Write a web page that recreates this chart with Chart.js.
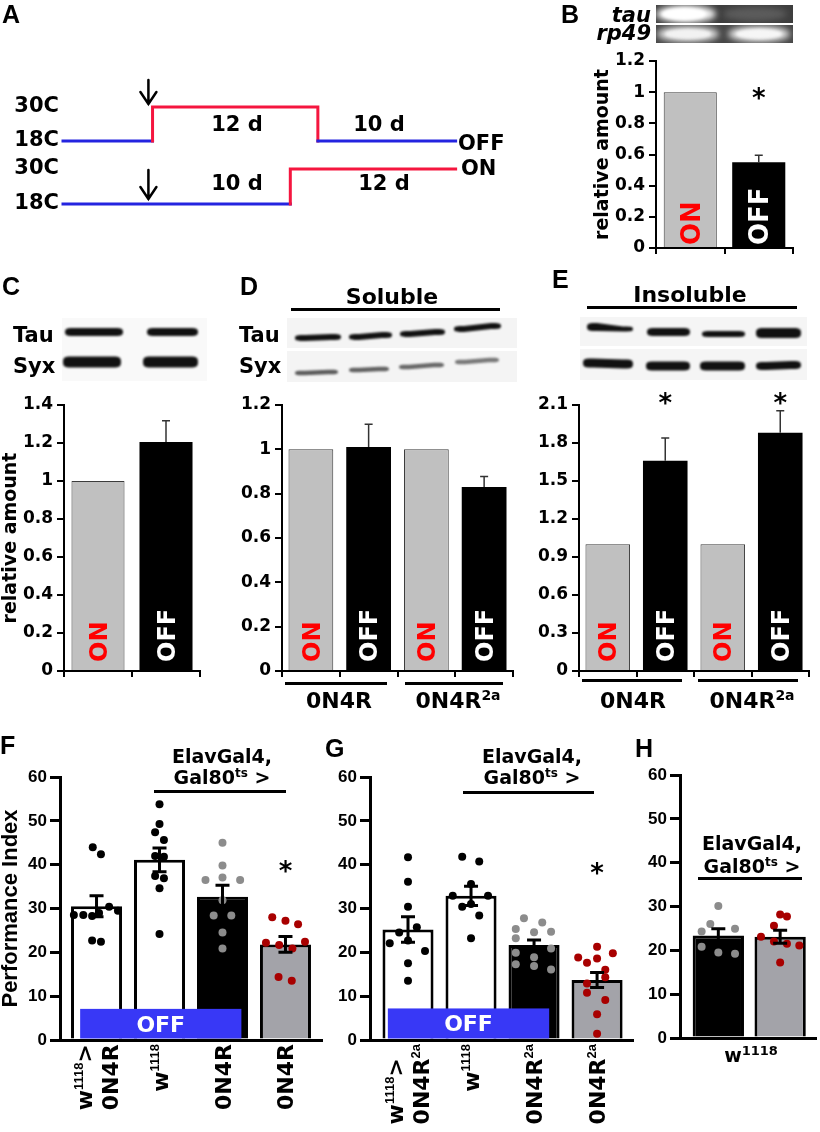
<!DOCTYPE html>
<html>
<head>
<meta charset="utf-8">
<title>Tau expression and learning</title>
<script src="https://cdn.jsdelivr.net/npm/chart.js@4.4.1/dist/chart.umd.min.js"></script>
<style>
  html, body { margin: 0; padding: 0; background: #fff; }
  #page { position: relative; width: 820px; height: 1132px; overflow: hidden; background: #fff; }
  #page canvas { position: absolute; }
  .t { position: absolute; white-space: nowrap; font-weight: bold; line-height: 1; color: #000;
       font-family: 'DejaVu Sans', Verdana, sans-serif; }
  .rule { position: absolute; background: #000; }
  .sup { position: relative; }
</style>
</head>
<body>
<div id="page"></div>
<script>
// ===================== DATA =====================
// Panel A: temperature-shift protocols (day relative to shift, temperature in C)
const offProtocolDays  = [-6.5, 0, 0, 12, 12, 22];
const offProtocolTemps = [18, 18, 30, 30, 18, 18];
const onProtocolDays   = [-6.5, 10, 10, 22];
const onProtocolTemps  = [18, 18, 30, 30];
const tempTickValues   = [18, 30];
const shiftArrowDay    = -0.3;

// Panel B: tau mRNA (RT-PCR)
const bCategories = ['ON', 'OFF'];
const bValues = [1, 0.55];
const bErrors = [0, 0.045];
const bSig    = ['', '*'];
const bTicks  = [0, 0.2, 0.4, 0.6, 0.8, 1, 1.2];

// Panel C: total Tau
const cCategories = ['ON', 'OFF'];
const cValues = [1, 1.205];
const cErrors = [0, 0.112];
const cTicks  = [0, 0.2, 0.4, 0.6, 0.8, 1, 1.2, 1.4];

// Panel D: soluble Tau
const dCategories = ['ON', 'OFF', 'ON', 'OFF'];
const dValues = [1, 1.01, 1, 0.83];
const dErrors = [0, 0.103, 0, 0.047];
const dTicks  = [0, 0.2, 0.4, 0.6, 0.8, 1, 1.2];
const dGroups = ['0N4R', '0N4R^{2a}'];

// Panel E: insoluble Tau
const eCategories = ['ON', 'OFF', 'ON', 'OFF'];
const eValues = [1, 1.66, 1, 1.88];
const eErrors = [0, 0.18, 0, 0.175];
const eSig    = ['', '*', '', '*'];
const eTicks  = [0, 0.3, 0.6, 0.9, 1.2, 1.5, 1.8, 2.1];
const eGroups = ['0N4R', '0N4R^{2a}'];

// Panels F-H: performance index
const piTicks = [0, 10, 20, 30, 40, 50, 60];

const fLabels = [['w^{1118}>', '0N4R'], ['w^{1118}'], ['0N4R'], ['0N4R']];
const fMeans  = [30.5, 41.1, 32.7, 21.8];
const fSem    = [2.4, 2.7, 2.6, 1.8];
const fSig    = ['', '', '', '*'];
// each dot: [horizontal jitter in category units, performance index]
const fDots0 = [[-0.36,28.5],[-0.21,28.5],[-0.07,28.3],[0.04,29.0],[0.2,30.4],[0.34,29.5],[-0.06,44.0],[0.07,42.4],[-0.07,22.7],[0.07,22.4]];
const fDots1 = [[0,53.8],[0,49.3],[-0.07,47.4],[0.07,45.6],[-0.07,42.0],[0.07,41.8],[-0.07,37.4],[0.07,36.9],[0,34.6],[0,24.2]];
const fDots2 = [[0,45.0],[0,39.8],[0,37.1],[-0.27,36.5],[0.28,36.5],[0,31.9],[-0.14,28.4],[0.14,28.4],[0,24.5],[0,20.9]];
const fDots3 = [[-0.21,28.0],[0,27.2],[0.2,26.4],[-0.31,22.2],[-0.1,21.7],[0.11,20.9],[0.31,22.4],[-0.11,14.4],[0.1,13.5]];

const gLabels = [['w^{1118}>', '0N4R^{2a}'], ['w^{1118}'], ['0N4R^{2a}'], ['0N4R^{2a}']];
const gMeans  = [25.2, 32.9, 21.7, 13.7];
const gSem    = [2.9, 2.2, 1.1, 1.7];
const gSig    = ['', '', '', '*'];
const gDots0 = [[0,41.7],[0,36.1],[0,30.4],[-0.14,24.5],[0.14,25.7],[-0.29,22.1],[0,22.7],[0.27,20.3],[0,17.5],[0,13.5]];
const gDots1 = [[-0.14,41.8],[0.13,40.7],[0,35.6],[-0.29,32.9],[0.27,32.9],[-0.14,30.4],[0,31.0],[0.13,28.4],[0,23.2]];
const gDots2 = [[-0.16,27.8],[0.13,26.8],[-0.29,25.3],[0,24.6],[0.27,24.7],[-0.29,23.2],[-0.29,19.9],[0,18.9],[0.27,20.9],[-0.29,17.3],[0,16.9],[0.27,16.1]];
const gDots3 = [[0,21.3],[-0.3,18.8],[0,18.6],[0.25,19.8],[-0.16,17.6],[0.13,16.0],[0.13,14.3],[-0.16,12.9],[-0.16,10.8],[0.13,9.1],[0,5.9],[0,1.4]];

const hGroupLabel = 'w^{1118}';
const hMeans = [23.4, 23.1];
const hSem   = [1.5, 1.5];
const hDots0 = [[0,30.1],[-0.13,26.0],[-0.27,24.3],[0.27,24.9],[-0.27,20.8],[0,19.5],[0.27,19.2]];
const hDots1 = [[0,28.2],[0.11,27.7],[-0.1,25.6],[-0.31,23.1],[0.31,21.1],[-0.1,22.0],[0.11,21.5],[0,17.2]];

// ===================== STYLE / HELPERS =====================
const FONT  = "'DejaVu Sans', Verdana, sans-serif";
const ARIAL = "'Liberation Sans', Arial, sans-serif";
const RED = '#f5163f', BLUE = '#2424e0';
const page = document.getElementById('page');
Chart.defaults.font.family = FONT;
Chart.defaults.color = '#000';

function mkCanvas(left, top, w, h) {
  const c = document.createElement('canvas');
  c.width = w; c.height = h;
  Object.assign(c.style, { left: left + 'px', top: top + 'px', width: w + 'px', height: h + 'px' });
  page.appendChild(c);
  return c;
}
function rich(s, supPx, raisePx) {
  return s.replace(/\^\{([^}]*)\}/g, (m, g) =>
    `<span class="sup" style="font-size:${supPx}px;top:-${raisePx}px">${g}</span>`);
}
function txt(html, x, y, o = {}) {
  const d = document.createElement('div');
  d.className = 't';
  d.innerHTML = html;
  d.style.fontSize = (o.size || 20) + 'px';
  if (o.family) d.style.fontFamily = o.family;
  if (o.italic) d.style.fontStyle = 'italic';
  if (o.color) d.style.color = o.color;
  if (o.lh) { d.style.lineHeight = o.lh + 'px'; d.style.textAlign = 'center'; }
  const a = o.align || 'center';
  const tx = a === 'center' ? '-50%' : a === 'right' ? '-100%' : '0';
  d.style.left = x + 'px'; d.style.top = y + 'px';
  d.style.transform = `translate(${tx}, -50%)`;
  page.appendChild(d);
  return d;
}
function rule(x0, x1, y, h = 3) {
  const d = document.createElement('div');
  d.className = 'rule';
  Object.assign(d.style, { left: x0 + 'px', top: (y - h / 2) + 'px', width: (x1 - x0) + 'px', height: h + 'px' });
  page.appendChild(d);
}
function parseRich(s) {
  const out = []; const re = /\^\{([^}]*)\}/g; let last = 0, m;
  while ((m = re.exec(s))) {
    if (m.index > last) out.push({ t: s.slice(last, m.index) });
    out.push({ t: m[1], sup: true }); last = re.lastIndex;
  }
  if (last < s.length) out.push({ t: s.slice(last) });
  return out;
}

// ---------- plugins ----------
function errorBarsPlugin(errors, o) {
  return { id: 'errorBars', afterDatasetsDraw(chart) {
    const ctx = chart.ctx, ys = chart.scales.y, meta = chart.getDatasetMeta(0);
    const ds = chart.data.datasets[0].data;
    ctx.save(); ctx.strokeStyle = o.color; ctx.lineWidth = o.width;
    meta.data.forEach((bar, i) => {
      const e = errors[i]; if (!e) return;
      const v = typeof ds[i] === 'object' ? ds[i].y : ds[i];
      const x = bar.x;
      const yt = ys.getPixelForValue(v + e);
      const yb = ys.getPixelForValue(o.both ? v - e : v);
      ctx.beginPath();
      ctx.moveTo(x, yb); ctx.lineTo(x, yt);
      ctx.moveTo(x - o.cap, yt); ctx.lineTo(x + o.cap, yt);
      if (o.both) { ctx.moveTo(x - o.cap, yb); ctx.lineTo(x + o.cap, yb); }
      ctx.stroke();
    });
    ctx.restore();
  }};
}
function barTextPlugin(labels, size, gap) {
  return { id: 'barText', afterDatasetsDraw(chart) {
    const ctx = chart.ctx, meta = chart.getDatasetMeta(0);
    const base = chart.scales.y.getPixelForValue(0);
    ctx.save();
    ctx.font = `bold ${size}px ${FONT}`; ctx.textAlign = 'left'; ctx.textBaseline = 'alphabetic';
    const cap = size * 0.729;
    meta.data.forEach((bar, i) => {
      ctx.save();
      ctx.translate(bar.x + cap / 2, base - gap);
      ctx.rotate(-Math.PI / 2);
      ctx.fillStyle = labels[i] === 'ON' ? '#ff0000' : '#ffffff';
      ctx.fillText(labels[i], 0, 0);
      ctx.restore();
    });
    ctx.restore();
  }};
}
function sigPlugin(marks, atValue, size) {
  return { id: 'sig', afterDatasetsDraw(chart) {
    const ctx = chart.ctx, meta = chart.getDatasetMeta(0);
    const y = chart.scales.y.getPixelForValue(atValue);
    ctx.save();
    ctx.font = `bold ${size}px ${FONT}`; ctx.fillStyle = '#000';
    ctx.textAlign = 'center'; ctx.textBaseline = 'alphabetic';
    meta.data.forEach((bar, i) => {
      const m = marks[i]; if (!m) return;
      const mt = ctx.measureText(m);
      ctx.fillText(m, bar.x, y + (mt.actualBoundingBoxAscent - mt.actualBoundingBoxDescent) / 2);
    });
    ctx.restore();
  }};
}
function offBoxPlugin(box) {
  return { id: 'offBox', afterDatasetsDraw(chart) {
    const ctx = chart.ctx, xs = chart.scales.x, ys = chart.scales.y;
    const x0 = xs.getPixelForValue(box.from), x1 = xs.getPixelForValue(box.to);
    const y0 = ys.getPixelForValue(box.top), y1 = ys.getPixelForValue(0) - 1.5;
    ctx.save();
    ctx.fillStyle = '#3838f6';
    ctx.fillRect(x0, y0, x1 - x0, y1 - y0);
    ctx.font = `bold 22px ${FONT}`; ctx.fillStyle = '#fff';
    ctx.textAlign = 'center'; ctx.textBaseline = 'alphabetic';
    const mt = ctx.measureText(box.label);
    ctx.fillText(box.label, (x0 + x1) / 2, (y0 + y1) / 2 + (mt.actualBoundingBoxAscent - mt.actualBoundingBoxDescent) / 2);
    ctx.restore();
  }};
}
function richTicksPlugin(labels, o) {
  return { id: 'richTicks', afterDraw(chart) {
    const ctx = chart.ctx, xs = chart.scales.x;
    const base = `bold ${o.size}px ${FONT}`, sup = `bold ${o.supSize}px ${ARIAL}`;
    const widthOf = segs => segs.reduce((w, s) => { ctx.font = s.sup ? sup : base; return w + ctx.measureText(s.t).width; }, 0);
    ctx.save(); ctx.fillStyle = '#000'; ctx.textBaseline = 'alphabetic'; ctx.textAlign = 'left';
    labels.forEach((lines, i) => {
      const cx = xs.getPixelForValue(i);
      const parsed = lines.map(parseRich);
      const W = Math.max(...parsed.map(widthOf));
      const startY = xs.top + o.gap + W;
      parsed.forEach((segs, j) => {
        const colX = cx + (j - (parsed.length - 1) / 2) * o.lineGap;
        ctx.save();
        ctx.translate(colX + o.size * 0.729 / 2, startY);
        ctx.rotate(-Math.PI / 2);
        let x = 0;
        segs.forEach(s => {
          ctx.font = s.sup ? sup : base;
          ctx.fillText(s.t, x, s.sup ? -o.raise : 0);
          x += ctx.measureText(s.t).width;
        });
        ctx.restore();
      });
    });
    ctx.restore();
  }};
}
function arrowPlugin(day, temp, gap, len) {
  return { id: 'arrow', afterDatasetsDraw(chart) {
    const ctx = chart.ctx;
    const x = chart.scales.x.getPixelForValue(day);
    const tip = chart.scales.y.getPixelForValue(temp) - gap;
    ctx.save(); ctx.strokeStyle = '#000'; ctx.lineWidth = 2.5; ctx.lineCap = 'round';
    ctx.beginPath();
    ctx.moveTo(x, tip - len); ctx.lineTo(x, tip);
    ctx.moveTo(x - 8, tip - 12); ctx.lineTo(x, tip); ctx.lineTo(x + 8, tip - 12);
    ctx.stroke(); ctx.restore();
  }};
}

// ---------- chart factories ----------
function timelineChart(canvas, days, temps, pad, arrowTemp, arrowGap, arrowLen) {
  return new Chart(canvas, {
    type: 'line',
    data: { datasets: [{
      data: days.map((d, i) => ({ x: d, y: temps[i] })),
      borderWidth: 3, pointRadius: 0, fill: false, tension: 0, clip: false,
      borderColor: RED, borderCapStyle: 'square', borderJoinStyle: 'miter',
      segment: { borderColor: c => (c.p0.parsed.y === 18 && c.p1.parsed.y === 18) ? BLUE : RED }
    }]},
    options: {
      responsive: false, animation: false, events: [],
      layout: { padding: pad },
      plugins: { legend: { display: false }, tooltip: { enabled: false } },
      scales: {
        x: { type: 'linear', display: false, min: -6.5, max: 22.1 },
        y: { type: 'linear', min: 18, max: 30,
             afterBuildTicks: s => { s.ticks = tempTickValues.map(v => ({ value: v })); },
             afterFit: s => { s.width = 63; s.paddingTop = 0; s.paddingBottom = 0; },
             ticks: { callback: v => v + 'C', font: { family: FONT, size: 21, weight: 'bold' }, color: '#000', padding: 4 },
             grid: { display: false, drawTicks: false, tickLength: 0 }, border: { display: false } }
      }
    },
    plugins: [arrowPlugin(shiftArrowDay, arrowTemp, arrowGap, arrowLen)]
  });
}

function westernChart(canvas, c) {
  return new Chart(canvas, {
    type: 'bar',
    data: { labels: c.cats, datasets: [{
      data: c.vals,
      backgroundColor: c.cats.map(k => k === 'ON' ? '#c0c0c0' : '#000'),
      borderColor: '#3c3c3c', borderWidth: c.cats.map(k => k === 'ON' ? 1 : 0),
      barPercentage: c.barPct, categoryPercentage: 1
    }]},
    options: {
      responsive: false, animation: false, events: [],
      layout: { padding: c.pad },
      plugins: { legend: { display: false }, tooltip: { enabled: false } },
      scales: {
        x: { type: 'category', offset: true,
             afterFit: s => { s.height = c.xHeight; s.paddingLeft = 0; s.paddingRight = 0; },
             ticks: { display: false },
             grid: { offset: true, drawOnChartArea: false, drawTicks: true, tickLength: 6, color: '#000', lineWidth: 2 },
             border: { display: true, color: '#000', width: 2 } },
        y: { type: 'linear', min: c.ticks[0], max: c.ticks[c.ticks.length - 1],
             afterBuildTicks: s => { s.ticks = c.ticks.map(v => ({ value: v })); },
             afterFit: s => { s.width = c.yWidth; s.paddingTop = 0; s.paddingBottom = 0; },
             ticks: { callback: v => String(v), font: { family: FONT, size: 17, weight: 'bold' }, color: '#000', padding: 4, autoSkip: false },
             grid: { drawOnChartArea: false, drawTicks: true, tickLength: 7, color: '#000', lineWidth: 2 },
             border: { display: true, color: '#000', width: 2 },
             title: c.title ? { display: true, text: c.title, color: '#000',
                     font: { family: FONT, size: 19, weight: 'bold', lineHeight: 1.2 },
                     padding: { top: c.titlePad || 0, bottom: 0 } } : { display: false } }
      }
    },
    plugins: [
      errorBarsPlugin(c.errs, { color: '#333', width: 1.5, cap: 4, both: false }),
      barTextPlugin(c.cats, c.textSize, c.textGap),
      sigPlugin(c.sig || [], c.sigAt || 0, 26)
    ]
  });
}

function behaviourChart(canvas, c) {
  const datasets = [{
    type: 'bar', data: c.means.map((m, i) => ({ x: i, y: m })),
    backgroundColor: c.fills, borderColor: '#000', borderWidth: 3,
    barPercentage: c.barPct, categoryPercentage: 1, order: 2
  }];
  c.swarms.forEach((pts, i) => datasets.push({
    type: 'scatter', data: pts.map(([dx, v]) => ({ x: i + dx, y: v })),
    backgroundColor: c.dotColors[i], pointBackgroundColor: c.dotColors[i],
    pointRadius: 4, pointBorderWidth: 0, borderWidth: 0, showLine: false, order: 1
  }));
  const plugins = [];
  if (c.offBox) plugins.push(offBoxPlugin(c.offBox));
  plugins.push(errorBarsPlugin(c.sems, { color: '#000', width: 3, cap: 7, both: true }));
  if (c.sig) plugins.push(sigPlugin(c.sig, c.sigAt, 26));
  if (c.labels) plugins.push(richTicksPlugin(c.labels, { size: 22, supSize: 13, raise: 9, lineGap: 26, gap: 4 }));
  return new Chart(canvas, {
    type: 'bar',
    data: { datasets },
    options: {
      responsive: false, animation: false, events: [],
      layout: { padding: c.pad },
      plugins: { legend: { display: false }, tooltip: { enabled: false } },
      scales: {
        x: { type: 'linear', min: c.xMin, max: c.xMax, offset: false,
             afterBuildTicks: s => { s.ticks = c.means.map((_, i) => ({ value: i })); },
             afterFit: s => { s.height = c.xHeight; s.paddingLeft = 0; s.paddingRight = 0; },
             ticks: { display: false }, grid: { display: false },
             border: { display: true, color: '#000', width: 3 } },
        y: { type: 'linear', min: 0, max: 60,
             afterBuildTicks: s => { s.ticks = piTicks.map(v => ({ value: v })); },
             afterFit: s => { s.width = c.yWidth; s.paddingTop = 0; s.paddingBottom = 0; },
             ticks: { callback: v => String(v), font: { family: ARIAL, size: 17, weight: 'bold' }, color: '#000', padding: 3, autoSkip: false },
             grid: { drawOnChartArea: false, drawTicks: true, tickLength: 10, color: '#000', lineWidth: 3 },
             border: { display: true, color: '#000', width: 3 },
             title: c.title ? { display: true, text: c.title, color: '#000',
                     font: { family: ARIAL, size: 22, weight: 'bold', lineHeight: 1.0 },
                     padding: { top: 0, bottom: 0 } } : { display: false } }
      }
    },
    plugins
  });
}

// ===================== BLOT / GEL IMAGES =====================
(function drawImages() {
  const cv = mkCanvas(0, 0, 820, 400);
  const ctx = cv.getContext('2d');
  function glow(cx, cy, rx, ry, color, blur) {
    ctx.save(); ctx.filter = `blur(${blur}px)`; ctx.fillStyle = color;
    ctx.beginPath(); ctx.ellipse(cx, cy, rx, ry, 0, 0, Math.PI * 2); ctx.fill(); ctx.restore();
  }
  function band(x0, x1, yl, yr, thl, thr, color, blur = 1.1) {
    ctx.save(); ctx.filter = `blur(${blur}px)`; ctx.fillStyle = color;
    const e = Math.min(10, (x1 - x0) / 4);
    ctx.beginPath();
    ctx.moveTo(x0, yl);
    ctx.bezierCurveTo(x0, yl - thl / 2, x0 + e * 0.3, yl - thl / 2, x0 + e, yl - thl / 2);
    ctx.lineTo(x1 - e, yr - thr / 2);
    ctx.bezierCurveTo(x1 - e * 0.3, yr - thr / 2, x1, yr - thr / 2, x1, yr);
    ctx.bezierCurveTo(x1, yr + thr / 2, x1 - e * 0.3, yr + thr / 2, x1 - e, yr + thr / 2);
    ctx.lineTo(x0 + e, yl + thl / 2);
    ctx.bezierCurveTo(x0 + e * 0.3, yl + thl / 2, x0, yl + thl / 2, x0, yl);
    ctx.fill(); ctx.restore();
  }
  // B: RT-PCR gel
  ctx.save(); ctx.beginPath(); ctx.rect(656, 5, 137, 18); ctx.clip();
  ctx.fillStyle = '#3e3e3e'; ctx.fillRect(656, 5, 137, 18);
  glow(686, 14, 30, 9, '#f4f4f4', 3); glow(684, 14, 22, 6, '#ffffff', 1.5);
  glow(755, 14, 32, 7, '#5c5c5c', 3);
  ctx.restore();
  ctx.save(); ctx.beginPath(); ctx.rect(656, 25, 137, 18); ctx.clip();
  ctx.fillStyle = '#474747'; ctx.fillRect(656, 25, 137, 18);
  glow(688, 34, 31, 8, '#dcdcdc', 3); glow(688, 34, 23, 5, '#f2f2f2', 1.5);
  glow(759, 34, 31, 8, '#e2e2e2', 3); glow(759, 34, 23, 5, '#f6f6f6', 1.5);
  ctx.restore();
  // C blot
  ctx.fillStyle = '#f9f9f9'; ctx.fillRect(62, 318, 145, 63);
  band(65, 123, 332, 332, 8, 8, '#111'); band(147, 198, 332, 332, 8, 8, '#111');
  band(63, 121, 362, 362, 11, 11, '#111'); band(143, 198, 362, 362, 11, 11, '#111');
  // D blot (soluble)
  ctx.fillStyle = '#f4f4f4'; ctx.fillRect(287, 318, 230, 30); ctx.fillRect(287, 351, 230, 31);
  band(295, 341, 338, 337, 6, 6, '#111'); band(349, 392, 337, 335, 6, 6, '#111');
  band(400, 445, 334, 332, 6, 6, '#111'); band(454, 501, 329, 326, 6, 6, '#111');
  band(295, 338, 373, 372, 4.5, 4.5, '#5a5a5a'); band(349, 389, 370, 369, 4.5, 4.5, '#606060');
  band(399, 444, 367, 365, 4.5, 4.5, '#666'); band(455, 499, 362, 360, 4.5, 4.5, '#777');
  // E blot (insoluble)
  ctx.fillStyle = '#f5f5f5'; ctx.fillRect(580, 317, 227, 29); ctx.fillRect(580, 349, 227, 31);
  band(587, 633, 327, 329, 8, 5, '#111'); band(647, 690, 332, 332, 8, 8, '#111');
  band(702, 745, 334, 334, 6, 6, '#111'); band(756, 801, 333, 333, 10, 10, '#111');
  band(583, 633, 363, 364, 9, 9, '#111'); band(646, 690, 366, 366, 9, 9, '#111');
  band(700, 745, 366, 366, 9, 9, '#111'); band(756, 801, 366, 365, 8, 8, '#111');
})();

// ===================== PANEL A =====================
timelineChart(mkCanvas(0, 70, 480, 83), offProtocolDays, offProtocolTemps,
  { left: 0, right: 23, top: 37, bottom: 12 }, 30, 3, 24);
timelineChart(mkCanvas(0, 150, 480, 66), onProtocolDays, onProtocolTemps,
  { left: 0, right: 23, top: 19, bottom: 12 }, 18, 5, 29);

// ===================== PANELS B-E =====================
westernChart(mkCanvas(590, 40, 213, 220), {
  cats: bCategories, vals: bValues, errs: bErrors, ticks: bTicks, sig: bSig, sigAt: 0.99,
  barPct: 0.775, pad: { top: 21, right: 10, bottom: 0, left: 0 }, xHeight: 12, yWidth: 66,
  title: 'relative amount', titlePad: 2, textSize: 26, textGap: 3
});
westernChart(mkCanvas(0, 390, 215, 295), {
  cats: cCategories, vals: cValues, errs: cErrors, ticks: cTicks,
  barPct: 0.78, pad: { top: 15, right: 15, bottom: 0, left: 0 }, xHeight: 14, yWidth: 64,
  title: 'relative amount', titlePad: 0, textSize: 24, textGap: 9
});
westernChart(mkCanvas(215, 390, 310, 295), {
  cats: dCategories, vals: dValues, errs: dErrors, ticks: dTicks,
  barPct: 0.775, pad: { top: 15, right: 12, bottom: 0, left: 0 }, xHeight: 14, yWidth: 67,
  textSize: 24, textGap: 9
});
westernChart(mkCanvas(525, 380, 295, 305), {
  cats: eCategories, vals: eValues, errs: eErrors, ticks: eTicks, sig: eSig, sigAt: 2.155,
  barPct: 0.775, pad: { top: 25, right: 11, bottom: 0, left: 0 }, xHeight: 14, yWidth: 54,
  textSize: 24, textGap: 9
});

// ===================== PANELS F-H =====================
behaviourChart(mkCanvas(0, 700, 330, 432), {
  means: fMeans, sems: fSem, swarms: [fDots0, fDots1, fDots2, fDots3],
  fills: ['#ffffff', '#ffffff', '#000000', '#a3a3a9'],
  dotColors: ['#000000', '#000000', '#8c8c8c', '#a80000'],
  xMin: -0.58, xMax: 3.58, barPct: 0.81, yWidth: 60, xHeight: 92,
  pad: { top: 77, right: 8, bottom: 0, left: 0 },
  title: 'Performance Index', labels: fLabels, sig: fSig, sigAt: 39.5,
  offBox: { from: -0.26, to: 2.3, top: 7.1, label: 'OFF' }
});
behaviourChart(mkCanvas(300, 700, 340, 432), {
  means: gMeans, sems: gSem, swarms: [gDots0, gDots1, gDots2, gDots3],
  fills: ['#ffffff', '#ffffff', '#000000', '#a3a3a9'],
  dotColors: ['#000000', '#000000', '#8c8c8c', '#a80000'],
  xMin: -0.603, xMax: 3.57, barPct: 0.81, yWidth: 70, xHeight: 92,
  pad: { top: 77, right: 7, bottom: 0, left: 0 },
  labels: gLabels, sig: gSig, sigAt: 39.2,
  offBox: { from: -0.32, to: 2.24, top: 7.2, label: 'OFF' }
});
behaviourChart(mkCanvas(630, 700, 190, 432), {
  means: hMeans, sems: hSem, swarms: [hDots0, hDots1],
  fills: ['#000000', '#a3a3a9'],
  dotColors: ['#8c8c8c', '#a80000'],
  xMin: -0.62, xMax: 1.58, barPct: 0.83, yWidth: 50, xHeight: 94,
  pad: { top: 75, right: 2, bottom: 0, left: 0 }
});

// ===================== TEXT =====================
const L = { size: 25, family: ARIAL, align: 'left' };
txt('A', 2, 13.5, L); txt('B', 561, 13.5, L); txt('C', 2, 286, L); txt('D', 240, 286, L);
txt('E', 552, 279, L); txt('F', 0, 745, L); txt('G', 325, 748, L); txt('H', 635, 748, L);

// A annotations
txt('12 d', 237, 124, { size: 21 }); txt('10 d', 379, 124, { size: 21 });
txt('10 d', 237, 183, { size: 21 }); txt('12 d', 384, 183, { size: 21 });
txt('OFF', 458, 143, { align: 'left', size: 21 }); txt('ON', 461, 168, { align: 'left', size: 21 });

// B gel labels
txt('tau', 651, 14.7, { align: 'right', italic: true, size: 21 });
txt('rp49', 651, 32.7, { align: 'right', italic: true, size: 21 });

// C-E blot labels
txt('Tau', 13, 335, { align: 'left', size: 21 }); txt('Syx', 13, 366, { align: 'left', size: 21 });
txt('Tau', 239, 335, { align: 'left', size: 21 }); txt('Syx', 239, 366, { align: 'left', size: 21 });
txt('Soluble', 392, 297, { size: 22 }); rule(291, 500, 309.5);
txt('Insoluble', 690, 295, { size: 22 }); rule(587, 797, 307.5);

// D/E group labels
rule(285, 387, 683); rule(405, 503, 683);
txt(rich(dGroups[0], 14, 8), 339, 701, { size: 22 });
txt(rich(dGroups[1], 14, 8), 458, 701, { size: 22 });
rule(582, 682, 680); rule(698, 798, 680);
txt(rich(eGroups[0], 14, 8), 633, 701, { size: 22 });
txt(rich(eGroups[1], 14, 8), 752, 701, { size: 22 });

// F-H driver labels
const driver = 'ElavGal4,<br>Gal80' + '<span class="sup" style="font-size:12px;top:-7px">ts</span> &gt;';
txt(driver, 222, 767.5, { size: 19, lh: 21 }); rule(154, 286, 791);
txt(driver, 532, 767.5, { size: 19, lh: 21 }); rule(463, 594, 792);
txt(driver, 752, 855.5, { size: 19, lh: 23 }); rule(698, 802, 878);
txt(rich(hGroupLabel, 13, 7), 751, 1055, { size: 19 });
</script>
</body>
</html>
